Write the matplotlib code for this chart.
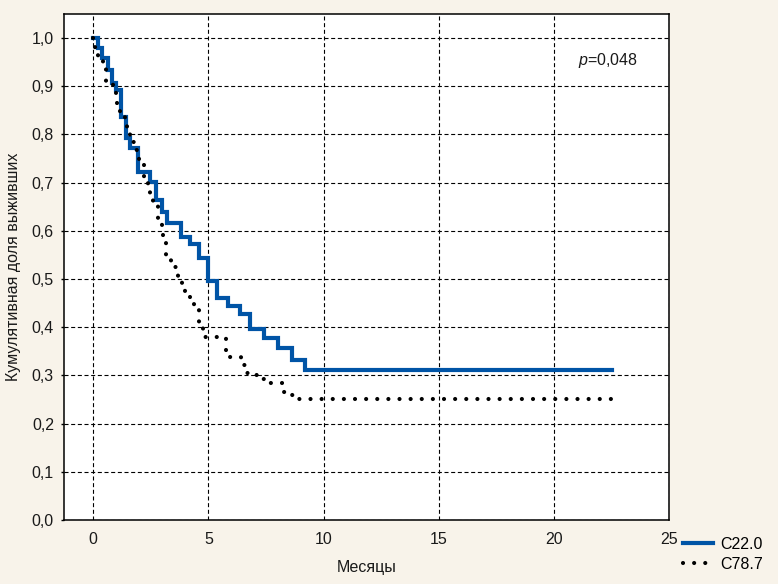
import matplotlib
matplotlib.use("Agg")
import matplotlib.pyplot as plt

# ---- data ----
c22_times = [0, 0.22, 0.39, 0.62, 0.80, 0.99, 1.21, 1.40, 1.60, 1.96, 2.47, 2.71, 2.97,
             3.19, 3.82, 4.21, 4.60, 4.98, 5.39, 5.83, 6.38, 6.79, 7.42, 8.02, 8.63, 9.21, 22.55]
c22_surv = [1.0, 0.979, 0.958, 0.934, 0.906, 0.892, 0.837, 0.792, 0.771, 0.723, 0.702, 0.664, 0.640,
            0.616, 0.588, 0.572, 0.543, 0.496, 0.461, 0.444, 0.427, 0.396, 0.377, 0.356, 0.333, 0.311, 0.311]

c78_times = [0, 0.07, 0.22, 0.41, 0.55, 0.87, 0.99, 1.04, 1.16, 1.38, 1.47, 1.58, 1.78, 2.00,
             2.20, 2.39, 2.47, 2.61, 2.79, 3.00, 3.04, 3.15, 3.38, 3.58, 3.70, 3.84, 3.99,
             4.21, 4.39, 4.61, 4.78, 5.77, 6.41, 6.60, 6.96, 7.25, 7.65, 8.22, 8.63, 8.84, 22.6]
c78_surv = [1.0, 0.978, 0.956, 0.945, 0.908, 0.890, 0.870, 0.850, 0.838, 0.825, 0.805, 0.785, 0.768, 0.740,
            0.702, 0.690, 0.668, 0.652, 0.615, 0.600, 0.580, 0.540, 0.526, 0.512, 0.494, 0.478, 0.462,
            0.449, 0.435, 0.400, 0.380, 0.338, 0.322, 0.305, 0.300, 0.292, 0.284, 0.266, 0.260, 0.252, 0.252]

series_labels = ["C22.0", "C78.7"]
x_ticks = [0, 5, 10, 15, 20, 25]
y_ticks = [0.0, 0.1, 0.2, 0.3, 0.4, 0.5, 0.6, 0.7, 0.8, 0.9, 1.0]
x_label = "Месяцы"
y_label = "Кумулятивная доля выживших"
p_text = "=0,048"

# ---- style ----
plt.rcParams['font.family'] = ['Liberation Sans', 'DejaVu Sans']
plt.rcParams['mathtext.fontset'] = 'custom'
plt.rcParams['mathtext.it'] = 'Liberation Sans:italic'
plt.rcParams['mathtext.rm'] = 'Liberation Sans'
plt.rcParams['lines.scale_dashes'] = False

bg = '#f8f3ea'
blue = '#0054a6'
fs = 11.5

fig = plt.figure(figsize=(7.78, 5.84), dpi=100, facecolor=bg)
ax = fig.add_axes([64.3/778, 1-520/584, (669.3-64.3)/778, (520-14)/584])
ax.set_facecolor('white')

ax.step(c22_times, c22_surv, where='post', color=blue, lw=3.0,
        solid_joinstyle='miter', label=series_labels[0], zorder=3)
ax.step(c78_times, c78_surv, where='post', color='black', lw=3.0,
        linestyle=(0, (0.01, 8.0)), dash_capstyle='round', label=series_labels[1], zorder=4)

ax.set_xlim(-1.26, 25.02)
ax.set_ylim(0, 1.05)
ax.set_xticks(x_ticks)
ax.set_yticks(y_ticks)
ax.set_xticklabels([str(v) for v in x_ticks])
ax.set_yticklabels([f"{v:.1f}".replace('.', ',') for v in y_ticks])
ax.tick_params(axis='x', length=0, pad=9, labelsize=fs, colors='#1a1a1a')
ax.tick_params(axis='y', length=2.5, width=1, direction='out', pad=5, labelsize=fs, colors='#1a1a1a')
ax.tick_params(axis='y', colors='black', labelcolor='#1a1a1a')

ax.grid(True, color='black', lw=0.8, linestyle=(0, (2.9, 1.9)), zorder=1)
ax.set_axisbelow(True)
for s in ax.spines.values():
    s.set_linewidth(1.1)
    s.set_color('black')

ax.set_xlabel(x_label, fontsize=fs, color='#1a1a1a', labelpad=9)
ax.set_ylabel(y_label, fontsize=fs, color='#1a1a1a', labelpad=8)

ax.text(21.06, 0.954, r'$\it{p}$' + p_text, fontsize=fs, ha='left', va='center', color='#1a1a1a')

fig.legend(loc='upper left', bbox_to_anchor=(683/778, 1-537/584), frameon=False,
           fontsize=fs, borderpad=0, borderaxespad=0, handlelength=1.9,
           handletextpad=0.45, labelspacing=0.3)

fig.savefig('out.png', dpi=100, facecolor=bg)
